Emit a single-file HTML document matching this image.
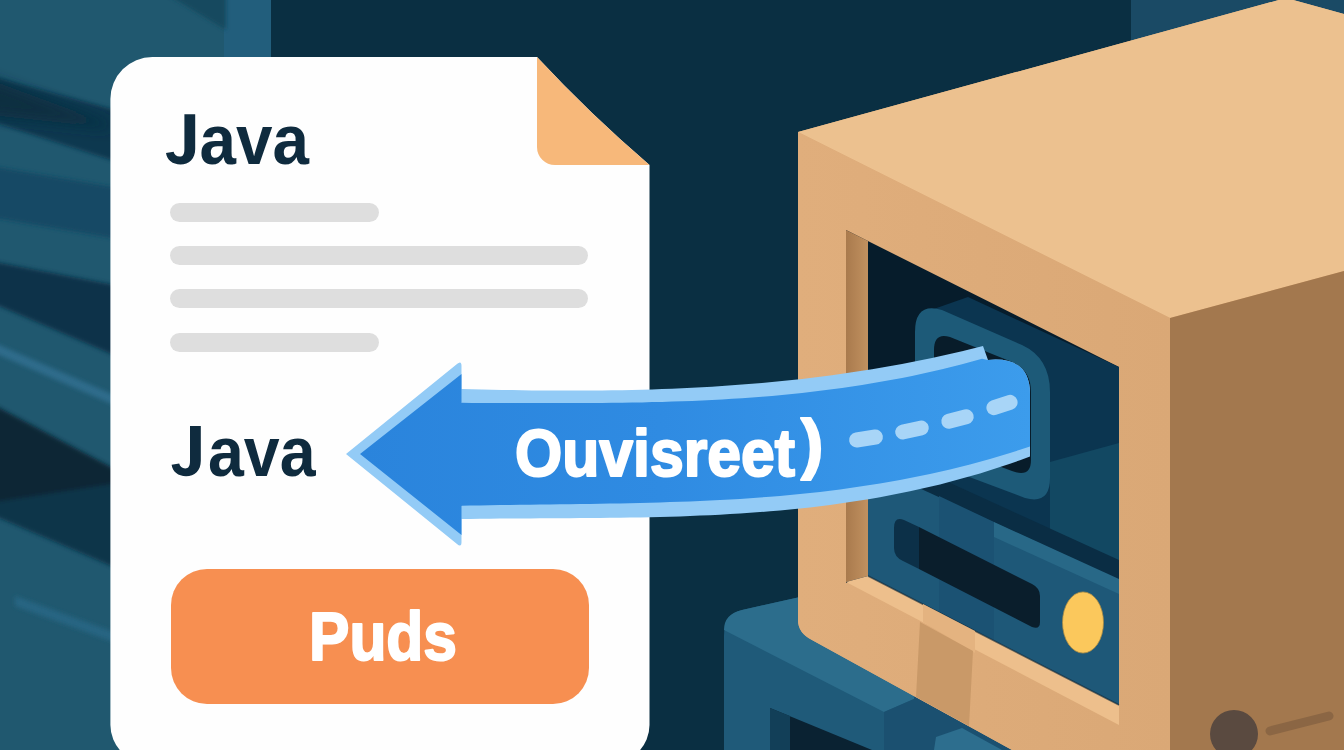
<!DOCTYPE html>
<html><head><meta charset="utf-8"><title>Java Ouvisreet</title>
<style>
html,body{margin:0;padding:0;width:1344px;height:750px;overflow:hidden;background:#0a2f42;}
svg{position:absolute;left:0;top:0;display:block;}
text{font-family:"Liberation Sans",sans-serif;font-weight:bold;}
</style></head><body>
<svg width="1344" height="750" viewBox="0 0 1344 750">
<defs>
<filter id="blur4" x="-20%" y="-20%" width="140%" height="140%"><feGaussianBlur stdDeviation="4"/></filter>
<filter id="blur6" x="-50%" y="-50%" width="200%" height="200%"><feGaussianBlur stdDeviation="7"/></filter>
<filter id="blur2" x="-20%" y="-20%" width="140%" height="140%"><feGaussianBlur stdDeviation="2"/></filter>
<linearGradient id="arrowG" x1="360" y1="0" x2="1030" y2="0" gradientUnits="userSpaceOnUse">
<stop offset="0" stop-color="#2a84dc"/><stop offset="0.45" stop-color="#2f8be2"/><stop offset="1" stop-color="#3c9cec"/>
</linearGradient>
<linearGradient id="frontG" x1="798" y1="0" x2="1170" y2="0" gradientUnits="userSpaceOnUse">
<stop offset="0" stop-color="#e0ae7c"/><stop offset="1" stop-color="#daa876"/>
</linearGradient>
<linearGradient id="wallG" x1="846" y1="0" x2="867" y2="0" gradientUnits="userSpaceOnUse">
<stop offset="0" stop-color="#a97a4d"/><stop offset="1" stop-color="#c0905f"/>
</linearGradient>
</defs>
<!-- background -->
<rect x="0" y="0" width="1344" height="750" fill="#0a2f42"/>
<!-- left teal panel -->
<rect x="0" y="0" width="271" height="750" fill="#20586f"/>
<rect x="224" y="0" width="47" height="60" fill="#225e7c"/>
<g filter="url(#blur2)">
<polygon points="168,-5 226,-5 226,30" fill="#18495f"/>
<polygon points="-10,76 -10,121 130,166 130,114" fill="#0e3950"/>
<polygon points="-10,166 -10,217 130,241 130,190" fill="#164865"/>
<polygon points="-10,261 -10,302 130,362 130,288" fill="#0d3348"/>
<polygon points="-10,341 -10,351 130,412 130,402" fill="#2e6c8b"/>
<polygon points="-10,503 -10,514 130,574 130,478" fill="#0d3449"/>
<polygon points="-10,403 -10,503 130,481 130,477" fill="#0a2535"/>
<polygon points="15,596 15,606 130,648 130,638" fill="#286582"/>
</g>
<polygon points="-20,76 110,124 110,128 -20,114" fill="#0a2d41" filter="url(#blur6)"/>
<!-- top-right lighter navy -->
<polygon points="1131,0 1290,0 1131,44" fill="#1a4a65"/>
<polygon points="1285,0 1344,0 1344,16" fill="#1a4a65"/>

<!-- lower blue server -->
<path d="M724,750 L724,636 Q724,614 742,610 L800,597 L1012,750 Z" fill="#1f5a79"/>
<path d="M724,630 Q724,614 742,610 L800,597 L916,694 L914,699 L884,712 Z" fill="#2c6d8c"/>
<polygon points="884,712 914,699 914,694 1012,750 884,750" fill="#1b5070"/>
<polygon points="936,737 962,728 1002,750 934,750" fill="#2d6e8e"/>
<polygon points="770,708 872,750 770,750" fill="#0a2232"/>
<polygon points="770,708 790,716 790,750 770,750" fill="#123f58"/>

<!-- tan box -->
<path d="M798,132 L1286,-2 L1344,14 L1344,750 L1012,750 L812,640 Q798,633 798,620 Z" fill="#dcaa78"/>
<polygon points="798,132 1286,-2 1344,14 1344,271 1170,318" fill="#ecc18f"/>
<polygon points="1170,318 1344,271 1344,750 1170,750" fill="#a3784e"/>
<path d="M798,132 L1170,318 L1170,750 L1012,750 L812,640 Q798,633 798,620 Z" fill="url(#frontG)"/>
<!-- opening -->
<polygon points="846,230 1119,367 1119,706 868,577 846,583" fill="#061c2b"/>
<polygon points="928,311 968,297 1119,367 1119,706 928,610" fill="#0b3550"/>
<polygon points="1050,462 1119,443 1119,706 1050,672" fill="#124862"/>
<!-- server inside -->
<polygon points="867,445 1119,560 1119,582 867,464" fill="#0a2d44"/>
<polygon points="867,464 1119,580 1119,706 867,577" fill="#1e5878"/>
<polygon points="939,496 994,522 994,640 939,612" fill="#1b5273"/>
<polygon points="994,522 1119,579 1119,594 994,537" fill="#286887"/>
<path d="M919,527 L1032,584 Q1040,588 1040,596 L1040,622 Q1040,630 1032,627 L919,569 Z" fill="#0a1e2c"/>
<path d="M919,527 L919,569 L903,561 Q894,557 894,548 L894,528 Q894,516 904,520 Z" fill="#0c3048"/>
<ellipse cx="1083" cy="622.5" rx="20.5" ry="30.6" fill="#fbc85c" stroke="#a88a45" stroke-width="0.8"/>
<!-- ring -->
<path d="M915,450 L915,332 Q915,302 942,310 L1022,345 Q1050,358 1050,392 L1050,478 Q1050,505 1025,498 L940,466 Q915,456 915,430 Z" fill="#1d5a78"/>
<path d="M934,430 L934,350 Q934,332 950,337 L1012,362 Q1031,370 1031,392 L1031,460 Q1031,478 1012,471 L950,448 Q934,442 934,425 Z" fill="#081c2a"/>
<!-- inner walls -->
<polygon points="846,230 868,241 868,576 846,582" fill="url(#wallG)"/>
<polygon points="846,582 868,576 1119,705 1119,725" fill="#edbf8c"/>
<line x1="868" y1="576" x2="1119" y2="705" stroke="#0a2233" stroke-width="1.5" opacity="0.6"/>
<!-- tape -->
<polygon points="923,604 975,631 975,653 923,622" fill="#e4b380"/>
<polygon points="920,622 973,651 969,726 916,697" fill="#c99968"/>
<!-- right face details -->
<circle cx="1234" cy="734" r="24" fill="#5a4a40"/>
<line x1="1270" y1="731" x2="1329" y2="716" stroke="#8b6644" stroke-width="9" stroke-linecap="round"/>

<!-- document -->
<path d="M152.4,57 L537,57 Q590,114 649.5,165 L649.5,725 A38,38 0 0 1 611.5,763 L148.4,763 A38,38 0 0 1 110.4,725 L110.4,99 A42,42 0 0 1 152.4,57 Z" fill="#fefefe"/>
<path d="M537,57 Q590,114 649.5,165 L555,165 A18,18 0 0 1 537,147 Z" fill="#f7b87a"/>
<path d="M184.4,114.2 L195.2,114.2 L195.2,149 C195.2,159 189,164.4 180.5,164.4 C172.5,164.4 167,160 166,153 L173.6,151.8 C174.3,154.8 176.5,156.6 179.6,156.6 C183,156.6 184.4,154.5 184.4,149 Z" fill="#0f2b3e"/>
<text x="199.6" y="164" font-size="71" fill="#0f2b3e" textLength="109.4" lengthAdjust="spacingAndGlyphs">ava</text>
<rect x="170" y="203" width="209" height="19" rx="9.5" fill="#dedede"/>
<rect x="170" y="246" width="418" height="19" rx="9.5" fill="#dedede"/>
<rect x="170" y="289" width="418" height="19" rx="9.5" fill="#dedede"/>
<rect x="170" y="333" width="209" height="19" rx="9.5" fill="#dedede"/>
<path d="M184.4,114.2 L195.2,114.2 L195.2,149 C195.2,159 189,164.4 180.5,164.4 C172.5,164.4 167,160 166,153 L173.6,151.8 C174.3,154.8 176.5,156.6 179.6,156.6 C183,156.6 184.4,154.5 184.4,149 Z" fill="#0f2b3e" transform="translate(5.6,311.8)"/>
<text x="208" y="476" font-size="71" fill="#0f2b3e" textLength="107.6" lengthAdjust="spacingAndGlyphs">ava</text>
<rect x="171" y="569" width="418" height="135" rx="36" fill="#f78f51"/>
<text x="309" y="660" font-size="68" fill="#ffffff" stroke="#ffffff" stroke-width="2" stroke-linejoin="round" textLength="148" lengthAdjust="spacingAndGlyphs">Puds</text>

<!-- arrow -->
<path d="M346,454 L457,364 Q461.5,360 461.5,366 L461.5,389 L462.0,388.9 L472.0,389.2 L482.0,389.4 L492.0,389.7 L502.0,389.9 L512.0,390.1 L522.0,390.2 L532.0,390.4 L542.0,390.5 L552.0,390.5 L562.0,390.6 L572.0,390.6 L582.0,390.6 L592.0,390.5 L602.0,390.4 L612.0,390.3 L622.0,390.2 L632.0,390.0 L642.0,389.7 L652.0,389.4 L662.0,389.1 L672.0,388.7 L682.0,388.3 L692.0,387.8 L702.0,387.3 L712.0,386.7 L722.0,386.0 L732.0,385.3 L742.0,384.6 L752.0,383.8 L762.0,382.9 L772.0,382.0 L782.0,381.0 L792.0,380.0 L802.0,378.9 L812.0,377.7 L822.0,376.5 L832.0,375.2 L842.0,373.8 L852.0,372.3 L862.0,370.8 L872.0,369.2 L882.0,367.5 L892.0,365.8 L902.0,363.9 L912.0,362.0 L922.0,360.0 L932.0,358.0 L942.0,355.8 L952.0,353.6 L962.0,351.2 L972.0,348.8 L982.0,346.3 L983.0,346.0 L988,360 Q1030,356 1030,394 L1030,447 L1030.0,456.6 L1020.0,460.2 L1010.0,463.7 L1000.0,467.1 L990.0,470.3 L980.0,473.4 L970.0,476.3 L960.0,479.1 L950.0,481.8 L940.0,484.4 L930.0,486.8 L920.0,489.1 L910.0,491.3 L900.0,493.3 L890.0,495.3 L880.0,497.2 L870.0,498.9 L860.0,500.5 L850.0,502.1 L840.0,503.5 L830.0,504.9 L820.0,506.2 L810.0,507.4 L800.0,508.5 L790.0,509.5 L780.0,510.4 L770.0,511.3 L760.0,512.1 L750.0,512.8 L740.0,513.5 L730.0,514.1 L720.0,514.7 L710.0,515.2 L700.0,515.6 L690.0,516.0 L680.0,516.4 L670.0,516.7 L660.0,516.9 L650.0,517.2 L640.0,517.4 L630.0,517.6 L620.0,517.7 L610.0,517.8 L600.0,517.9 L590.0,518.0 L580.0,518.1 L570.0,518.2 L560.0,518.2 L550.0,518.3 L540.0,518.3 L530.0,518.4 L520.0,518.5 L510.0,518.5 L500.0,518.6 L490.0,518.7 L480.0,518.8 L470.0,519.0 L462.0,519.1 L461.5,519 L461.5,542 Q461.5,548 457,544 Z" fill="#93cbf6"/>
<path d="M360,454 L461.5,374 L461.5,403 L462.0,402.8 L472.0,402.9 L482.0,402.9 L492.0,402.9 L502.0,403.0 L512.0,403.0 L522.0,403.0 L532.0,403.1 L542.0,403.1 L552.0,403.1 L562.0,403.1 L572.0,403.1 L582.0,403.1 L592.0,403.0 L602.0,402.9 L612.0,402.8 L622.0,402.7 L632.0,402.6 L642.0,402.4 L652.0,402.1 L662.0,401.9 L672.0,401.6 L682.0,401.3 L692.0,400.9 L702.0,400.4 L712.0,400.0 L722.0,399.4 L732.0,398.8 L742.0,398.2 L752.0,397.5 L762.0,396.7 L772.0,395.9 L782.0,395.0 L792.0,394.0 L802.0,392.9 L812.0,391.8 L822.0,390.6 L832.0,389.3 L842.0,388.0 L852.0,386.5 L862.0,385.0 L872.0,383.3 L882.0,381.6 L892.0,379.8 L902.0,377.9 L912.0,375.9 L922.0,373.8 L932.0,371.5 L942.0,369.2 L952.0,366.8 L962.0,364.2 L972.0,361.5 L982.0,358.7 L988,360 Q1030,356 1030,394 L1030,447 L1030.0,446.4 L1020.0,449.8 L1010.0,452.9 L1000.0,456.0 L990.0,458.9 L980.0,461.7 L970.0,464.4 L960.0,466.9 L950.0,469.4 L940.0,471.7 L930.0,473.9 L920.0,476.0 L910.0,478.1 L900.0,480.0 L890.0,481.8 L880.0,483.5 L870.0,485.1 L860.0,486.6 L850.0,488.0 L840.0,489.4 L830.0,490.7 L820.0,491.9 L810.0,493.0 L800.0,494.0 L790.0,495.0 L780.0,495.9 L770.0,496.7 L760.0,497.5 L750.0,498.2 L740.0,498.9 L730.0,499.5 L720.0,500.0 L710.0,500.5 L700.0,501.0 L690.0,501.4 L680.0,501.8 L670.0,502.1 L660.0,502.4 L650.0,502.7 L640.0,503.0 L630.0,503.2 L620.0,503.4 L610.0,503.6 L600.0,503.7 L590.0,503.9 L580.0,504.0 L570.0,504.2 L560.0,504.3 L550.0,504.4 L540.0,504.5 L530.0,504.7 L520.0,504.8 L510.0,504.9 L500.0,505.1 L490.0,505.3 L480.0,505.4 L470.0,505.6 L462.0,505.8 L461.5,506 L461.5,535 Z" fill="url(#arrowG)"/>
<g fill="#ffffff" stroke="#ffffff" stroke-width="2.2" stroke-linejoin="round"><text x="515" y="476" font-size="67" textLength="280" lengthAdjust="spacingAndGlyphs">Ouvisreet</text>
<text x="801" y="466" font-size="67">)</text></g>
<g fill="#a8d5f7">
<rect x="849" y="431" width="34" height="15" rx="7.5" transform="rotate(-9 866 438.5)"/>
<rect x="895" y="422.5" width="34" height="15" rx="7.5" transform="rotate(-12 912 430)"/>
<rect x="941" y="411.5" width="33" height="15" rx="7.5" transform="rotate(-15 957.5 419)"/>
<rect x="986" y="397.5" width="32" height="15" rx="7.5" transform="rotate(-18 1002 405)"/>
</g>
</svg>
</body></html>
